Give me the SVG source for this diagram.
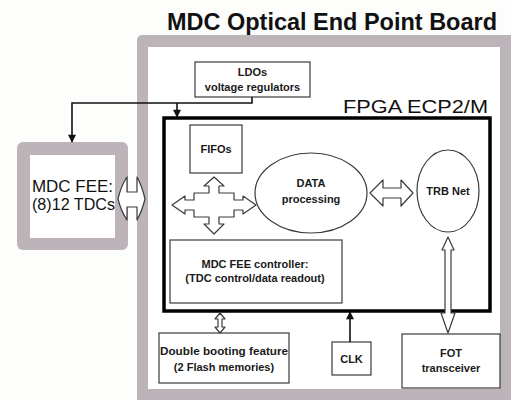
<svg xmlns="http://www.w3.org/2000/svg" width="511" height="400" viewBox="0 0 511 400">
  <style>
    .frame { fill: #bcb4b8; }
    .inner { fill: #ffffff; }
    .box { fill: #ffffff; stroke: #3a3a3a; stroke-width: 1.2; }
    .lbl { font-family: "Liberation Sans", Arial, sans-serif; font-weight: bold; font-size: 11px; fill: #1a1a1a; text-anchor: middle; }
    .big { font-family: "Liberation Sans", Arial, sans-serif; font-size: 17px; fill: #111111; }
    .hollow { fill: #ffffff; stroke: #3a3a3a; stroke-width: 1.2; stroke-linejoin: round; }
    .wire { fill: none; stroke: #111111; stroke-width: 1.6; }
  </style>
  <defs>
    <marker id="tip" viewBox="0 0 10 10" refX="9" refY="5" markerWidth="5.5" markerHeight="5" orient="auto">
      <path d="M0,0 L10,5 L0,10 Z" fill="#111111"/>
    </marker>
  </defs>

  <rect width="511" height="400" fill="#fdfdfc"/>

  <!-- title -->
  <text x="332" y="30" text-anchor="middle" font-family="'Liberation Sans', Arial, sans-serif" font-weight="bold" font-size="23.5" textLength="330" lengthAdjust="spacingAndGlyphs" fill="#111111">MDC Optical End Point Board</text>

  <!-- board frame -->
  <g id="board">
    <rect class="frame" x="137" y="35" width="380" height="375" rx="5"/>
    <rect class="inner" x="148" y="47" width="352" height="342"/>
  </g>

  <!-- FPGA -->
  <g id="fpga">
    <rect x="164" y="118" width="326" height="193" fill="#ffffff" stroke="#000000" stroke-width="3.5"/>
    <text x="488" y="113" text-anchor="end" font-family="'Liberation Sans', Arial, sans-serif" font-size="18.5" textLength="145" lengthAdjust="spacingAndGlyphs" fill="#111111">FPGA ECP2/M</text>
  </g>

  <g id="ldos">
    <rect class="box" x="195" y="62" width="115" height="35"/>
    <text class="lbl" x="252.5" y="76">LDOs</text>
    <text class="lbl" x="252.5" y="91">voltage regulators</text>
  </g>

  <g id="fee">
    <rect class="frame" x="17" y="142" width="111" height="108" rx="6"/>
    <rect class="inner" x="30" y="155" width="85" height="83"/>
    <text class="big" x="32" y="192" textLength="81" lengthAdjust="spacingAndGlyphs">MDC FEE:</text>
    <text class="big" x="32" y="210" textLength="83" lengthAdjust="spacingAndGlyphs">(8)12 TDCs</text>
  </g>

  <g id="fifos">
    <rect class="box" x="190" y="125" width="52" height="48"/>
    <text class="lbl" x="216" y="153">FIFOs</text>
  </g>

  <g id="data">
    <ellipse class="box" cx="311" cy="193" rx="56" ry="40"/>
    <text class="lbl" x="311" y="187">DATA</text>
    <text class="lbl" x="311" y="203">processing</text>
  </g>

  <g id="trbnet">
    <ellipse class="box" cx="448" cy="191" rx="31" ry="41"/>
    <text class="lbl" x="448" y="195">TRB Net</text>
  </g>

  <g id="controller">
    <rect class="box" x="170" y="240" width="172" height="63"/>
    <text class="lbl" x="255" y="268">MDC FEE controller:</text>
    <text class="lbl" x="255" y="282">(TDC control/data readout)</text>
  </g>

  <g id="booting">
    <rect class="box" x="159" y="333" width="130" height="50"/>
    <text class="lbl" x="224" y="355" textLength="128" lengthAdjust="spacingAndGlyphs">Double booting feature</text>
    <text class="lbl" x="224" y="371">(2 Flash memories)</text>
  </g>

  <g id="clk">
    <rect class="box" x="332" y="342" width="39" height="33"/>
    <text class="lbl" x="351.5" y="363">CLK</text>
  </g>

  <g id="fot">
    <rect class="box" x="402" y="334" width="98" height="54"/>
    <text class="lbl" x="451" y="357">FOT</text>
    <text class="lbl" x="451" y="372">transceiver</text>
  </g>

  <g id="connectors">
    <!-- power distribution from the regulators -->
    <polyline class="wire" points="252,97 252,103 72,103 72,142" marker-end="url(#tip)"/>
    <line class="wire" x1="177" y1="103" x2="177" y2="117" marker-end="url(#tip)"/>
    <!-- clock into the FPGA -->
    <line class="wire" x1="350" y1="342" x2="350" y2="312" stroke-width="2" marker-end="url(#tip)"/>
    <!-- FEE link -->
    <path class="hollow" d="M118,199 Q121,186 127,177 L127,192 L137,192 L137,177 Q142,186 145,199 Q142,211 137,220 L137,207 L127,207 L127,220 Q121,211 118,199 Z"/>
    <!-- four-way data distribution -->
    <path class="hollow" d="M214,177 L224,186 L219,186 L219,193 L234,193 L234,200 L243,200 L243,196 L256,205 L243,214 L243,210 L234,210 L234,217 L219,217 L219,224 L224,224 L214,234 L204,224 L209,224 L209,217 L194,217 L194,210 L185,210 L185,214 L172,205 L185,196 L185,200 L194,200 L194,193 L209,193 L209,186 L204,186 Z"/>
    <!-- DATA <-> TRB Net -->
    <path class="hollow" d="M370,193 L383,180 L383,188 L401,188 L401,180 L413,193 L401,206 L401,198 L383,198 L383,206 Z"/>
    <!-- TRB Net <-> FOT -->
    <path class="hollow" d="M448,237 L454,250 L451,250 L451,313 L455,313 L448,333 L441,313 L445,313 L445,250 L442,250 Z"/>
    <!-- controller <-> flash -->
    <path class="hollow" d="M220,313 L225,319 L222,319 L222,327 L225,327 L220,333 L215,327 L218,327 L218,319 L215,319 Z"/>
  </g>
</svg>
